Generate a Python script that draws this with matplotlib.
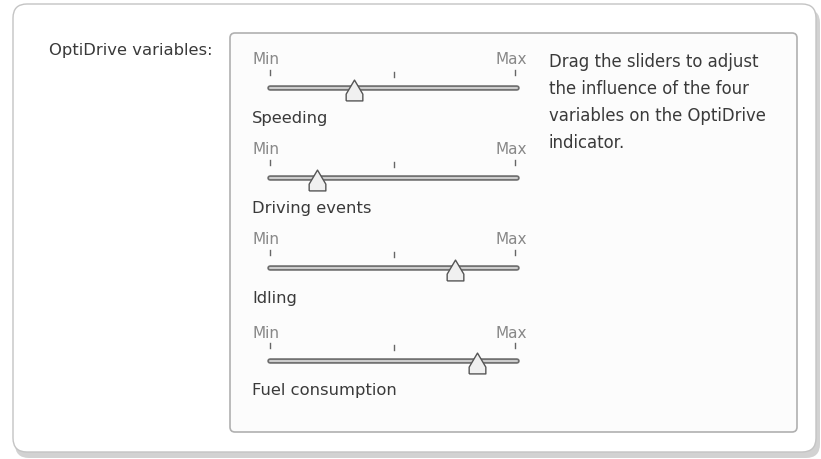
import matplotlib.pyplot as plt
from matplotlib.patches import FancyBboxPatch
from matplotlib.path import Path

names = ["Speeding", "Driving events", "Idling", "Fuel consumption"]
values = [0.34, 0.19, 0.75, 0.84]
track_y = [88, 178, 268, 361]
help_lines = ["Drag the sliders to adjust", "the influence of the four",
              "variables on the OptiDrive", "indicator."]

plt.rcParams['font.family'] = ['DejaVu Sans']

fig = plt.figure(figsize=(8.21, 4.59), dpi=100)
ax = fig.add_axes([0, 0, 1, 1])
ax.set_xlim(0, 821)
ax.set_ylim(459, 0)
ax.axis('off')

# shadow + outer panel
ax.add_patch(FancyBboxPatch((15, 9), 805, 449, boxstyle="round,pad=0,rounding_size=14",
                            fc='#d2d2d2', ec='none'))
ax.add_patch(FancyBboxPatch((13, 4), 803, 448, boxstyle="round,pad=0,rounding_size=14",
                            fc='white', ec='#c4c4c4', lw=1))
# inner box
ax.add_patch(FancyBboxPatch((230, 33), 567, 399, boxstyle="round,pad=0,rounding_size=5",
                            fc='#fcfcfc', ec='#b0b0b0', lw=1.2))

ax.text(49, 50, "OptiDrive variables:", fontsize=11.8, color='#3a3a3a', va='center')

for i, line in enumerate(help_lines):
    ax.text(549, 62 + i * 27, line, fontsize=11.9, color='#3a3a3a', va='center')

x0, x1 = 270, 517
thumb = Path([(-0.8, -1), (-0.8, -0.35), (0, 1), (0.8, -0.35), (0.8, -1), (-0.8, -1)])

for name, v, ty in zip(names, values, track_y):
    ax.text(x0 - 18, ty - 28, "Min", fontsize=11, color='#888888', va='center')
    ax.text(x1 + 10, ty - 28, "Max", fontsize=11, color='#888888', va='center', ha='right')
    ax.plot([x0, x0], [ty - 18, ty - 13], color='#666666', lw=1)
    ax.plot([x1 - 2, x1 - 2], [ty - 18, ty - 13], color='#666666', lw=1)
    ax.plot([(x0 + x1) / 2] * 2, [ty - 16, ty - 11], color='#666666', lw=1)
    ax.plot([x0, x1], [ty, ty], color='#6e6e6e', lw=4, solid_capstyle='round')
    ax.plot([x0, x1], [ty, ty], color='#cccccc', lw=1.5, solid_capstyle='round')
    ax.plot(x0 + v * (x1 - x0), ty + 2, marker=thumb, ms=15, mfc='#f0f0f0',
            mec='#555555', mew=1)
    ax.text(x0 - 18, ty + 30, name, fontsize=11.8, color='#3a3a3a', va='center')

fig.savefig('out.png', dpi=100)
